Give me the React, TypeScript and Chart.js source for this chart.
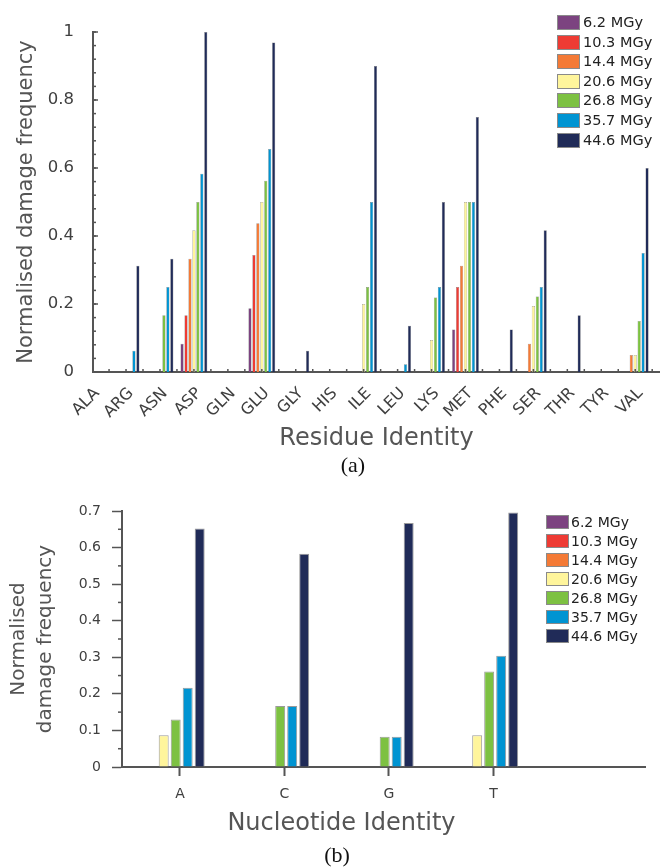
import React, { useEffect, useRef } from 'react';
import { Chart, registerables } from 'chart.js';

Chart.register(...registerables);

// ---------- data ----------
const doses = ['6.2 MGy', '10.3 MGy', '14.4 MGy', '20.6 MGy', '26.8 MGy', '35.7 MGy', '44.6 MGy'];

const residues = ['ALA', 'ARG', 'ASN', 'ASP', 'GLN', 'GLU', 'GLY', 'HIS', 'ILE', 'LEU', 'LYS', 'MET', 'PHE', 'SER', 'THR', 'TYR', 'VAL'];
//                       ALA  ARG     ASN    ASP    GLN  GLU     GLY     HIS  ILE  LEU    LYS    MET     PHE    SER    THR    TYR  VAL
const residue6_2 = [0, 0, 0, 0.083, 0, 0.1875, 0, 0, 0, 0, 0, 0.125, 0, 0, 0, 0, 0];
const residue10_3 = [0, 0, 0, 0.167, 0, 0.344, 0, 0, 0, 0, 0, 0.25, 0, 0, 0, 0, 0];
const residue14_4 = [0, 0, 0, 0.333, 0, 0.4375, 0, 0, 0, 0, 0, 0.3125, 0, 0.083, 0, 0, 0.05];
const residue20_6 = [0, 0, 0, 0.417, 0, 0.5, 0, 0, 0.2, 0, 0.094, 0.5, 0, 0.194, 0, 0, 0.05];
const residue26_8 = [0, 0, 0.167, 0.5, 0, 0.5625, 0, 0, 0.25, 0, 0.219, 0.5, 0, 0.222, 0, 0, 0.15];
const residue35_7 = [0, 0.0625, 0.25, 0.583, 0, 0.656, 0, 0, 0.5, 0.023, 0.25, 0.5, 0, 0.25, 0, 0, 0.35];
const residue44_6 = [0, 0.3125, 0.333, 1.0, 0, 0.969, 0.0625, 0, 0.9, 0.136, 0.5, 0.75, 0.125, 0.417, 0.167, 0, 0.6];
const residueSeries = [residue6_2, residue10_3, residue14_4, residue20_6, residue26_8, residue35_7, residue44_6];

const nucleotides = ['A', 'C', 'G', 'T'];
const nucleotide6_2 = [0, 0, 0, 0];
const nucleotide10_3 = [0, 0, 0, 0];
const nucleotide14_4 = [0, 0, 0, 0];
const nucleotide20_6 = [0.087, 0, 0, 0.087];
const nucleotide26_8 = [0.13, 0.167, 0.083, 0.261];
const nucleotide35_7 = [0.217, 0.167, 0.083, 0.304];
const nucleotide44_6 = [0.652, 0.583, 0.667, 0.696];
const nucleotideSeries = [nucleotide6_2, nucleotide10_3, nucleotide14_4, nucleotide20_6, nucleotide26_8, nucleotide35_7, nucleotide44_6];

const residueYTicks = { min: 0, max: 1, step: 0.2 };
const nucleotideYTicks = { min: 0, max: 0.7, step: 0.1 };

// ---------- style ----------
const COLORS = ['#7C4380', '#EE3B34', '#F47A36', '#FFF59C', '#7DC142', '#0094D2', '#202B58'];
const FONT = '"DejaVu Sans", Verdana, sans-serif';
const AXIS = '#555555';
const TICK = '#404040';
const TITLE = '#555555';

const fmt = (v: any) => String(Number(Number(v).toFixed(3)));

type Mark = { scale: string; from: number; to: number; step: number; len: number };

function makeTickPlugin(marks: Mark[]) {
  return {
    id: 'tickMarks',
    afterDraw(chart: any) {
      const ctx = chart.ctx;
      ctx.save();
      ctx.strokeStyle = AXIS;
      ctx.lineWidth = 1.5;
      for (const m of marks) {
        const s = chart.scales[m.scale];
        const n = Math.round((m.to - m.from) / m.step);
        for (let k = 0; k <= n; k++) {
          const v = m.from + k * m.step;
          const p = s.getPixelForValue(v);
          ctx.beginPath();
          if (s.isHorizontal()) {
            ctx.moveTo(p, s.top);
            ctx.lineTo(p, s.top + m.len);
          } else {
            ctx.moveTo(s.right, p);
            ctx.lineTo(s.right + m.len, p);
          }
          ctx.stroke();
        }
      }
      ctx.restore();
    },
  };
}

function makeLegendPlugin(o: { x: number; y: number; row: number; boxW: number; boxH: number; font: number; gap: number }) {
  return {
    id: 'boxLegend',
    afterDraw(chart: any) {
      const ctx = chart.ctx;
      ctx.save();
      ctx.font = `${o.font}px ${FONT}`;
      ctx.textBaseline = 'middle';
      ctx.textAlign = 'left';
      chart.data.datasets.forEach((ds: any, i: number) => {
        const y = Math.round(o.y + i * o.row);
        ctx.fillStyle = ds.backgroundColor;
        ctx.fillRect(o.x, y, o.boxW, o.boxH);
        ctx.strokeStyle = '#8a8a8a';
        ctx.lineWidth = 1;
        ctx.strokeRect(o.x + 0.5, y + 0.5, o.boxW - 1, o.boxH - 1);
        ctx.fillStyle = '#222222';
        ctx.fillText(ds.label, o.x + o.boxW + o.gap, y + o.boxH / 2 + 1);
      });
      ctx.restore();
    },
  };
}

function ResidueChart() {
  const ref = useRef<HTMLCanvasElement>(null);
  useEffect(() => {
    const chart = new Chart(ref.current!, {
      type: 'bar',
      data: {
        datasets: doses.map((d, j) => ({
          label: d,
          data: residueSeries[j].map((v, i) => ({ x: i + 1, y: v })),
          backgroundColor: COLORS[j],
          borderColor: 'rgba(70,70,70,0.7)',
          borderWidth: 0.5,
          categoryPercentage: 0.814,
          barPercentage: 0.8,
        })),
      },
      options: {
        responsive: false,
        animation: false,
        layout: { padding: { top: 32, left: 0, right: 0, bottom: 0 } },
        plugins: { legend: { display: false }, tooltip: { enabled: false } },
        scales: {
          x: {
            type: 'linear',
            min: 1.027,
            max: 17.73,
            offset: false,
            grid: { display: false, offset: false },
            border: { display: true, color: AXIS, width: 2 },
            afterBuildTicks: (s: any) => {
              s.ticks = residues.map((_, i) => ({ value: i + 1.15 }));
            },
            ticks: {
              autoSkip: false,
              minRotation: 45,
              maxRotation: 45,
              padding: 4,
              color: TICK,
              font: { family: FONT, size: 16 },
              callback: (_v: any, i: number) => residues[i],
            },
            afterFit: (s: any) => {
              s.height = 108;
            },
            title: {
              display: true,
              text: 'Residue Identity',
              color: TITLE,
              font: { family: FONT, size: 24 },
              padding: { top: 0, bottom: 27 },
            },
          },
          y: {
            min: residueYTicks.min,
            max: residueYTicks.max,
            grid: { display: false },
            border: { display: true, color: AXIS, width: 2 },
            ticks: { stepSize: residueYTicks.step, padding: 11, color: TICK, font: { family: FONT, size: 16.5 }, callback: fmt },
            afterFit: (s: any) => {
              s.width = 93;
            },
            title: {
              display: true,
              text: 'Normalised damage frequency',
              color: TITLE,
              font: { family: FONT, size: 21 },
              padding: { top: 14, bottom: 0 },
            },
          },
        },
      } as any,
      plugins: [
        makeTickPlugin([
          { scale: 'y', from: 0, to: 1, step: 0.04, len: 3 },
          { scale: 'y', from: 0, to: 1, step: 0.2, len: 5 },
          { scale: 'x', from: 1.5, to: 17.5, step: 0.5, len: -3 },
        ]),
        makeLegendPlugin({ x: 557, y: 15, row: 19.6, boxW: 23, boxH: 15, font: 14.5, gap: 3 }),
      ],
    });
    return () => chart.destroy();
  }, []);
  return <canvas ref={ref} width={660} height={480} style={{ position: 'absolute', left: 0, top: 0, width: 660, height: 480 }} />;
}

function NucleotideChart() {
  const ref = useRef<HTMLCanvasElement>(null);
  useEffect(() => {
    const chart = new Chart(ref.current!, {
      type: 'bar',
      data: {
        datasets: doses.map((d, j) => ({
          label: d,
          data: nucleotideSeries[j].map((v, i) => ({ x: i + 1, y: v })),
          backgroundColor: COLORS[j],
          borderColor: '#9a9a9a',
          borderWidth: 1,
          categoryPercentage: 0.804,
          barPercentage: 0.83,
        })),
      },
      options: {
        responsive: false,
        animation: false,
        layout: { padding: { top: 31, left: 0, right: 15, bottom: 0 } },
        plugins: { legend: { display: false }, tooltip: { enabled: false } },
        scales: {
          x: {
            type: 'linear',
            min: 0.601,
            max: 5.606,
            offset: false,
            grid: { display: true, drawOnChartArea: false, drawTicks: true, tickLength: 9, tickWidth: 2, tickColor: AXIS, offset: false },
            border: { display: true, color: AXIS, width: 2 },
            afterBuildTicks: (s: any) => {
              s.ticks = nucleotides.map((_, i) => ({ value: i + 1.156 }));
            },
            ticks: {
              autoSkip: false,
              maxRotation: 0,
              padding: 10,
              color: TICK,
              font: { family: FONT, size: 14 },
              callback: (_v: any, i: number) => nucleotides[i],
            },
            afterFit: (s: any) => {
              s.height = 100;
            },
          },
          y: {
            min: nucleotideYTicks.min,
            max: nucleotideYTicks.max,
            grid: { display: true, drawOnChartArea: false, drawTicks: true, tickLength: 10, tickWidth: 1.5, tickColor: AXIS },
            border: { display: true, color: AXIS, width: 2 },
            ticks: { stepSize: nucleotideYTicks.step, padding: 11, color: TICK, font: { family: FONT, size: 14 }, callback: fmt },
            afterFit: (s: any) => {
              s.width = 122;
            },
            title: {
              display: true,
              text: ['Normalised', 'damage frequency'],
              color: TITLE,
              font: { family: FONT, size: 20, lineHeight: 1.35 },
              padding: { top: 5.5, bottom: 0 },
            },
          },
        },
      } as any,
      plugins: [
        makeTickPlugin([{ scale: 'y', from: 0.05, to: 0.65, step: 0.1, len: -4 }]),
        makeLegendPlugin({ x: 546, y: 35, row: 19, boxW: 23, boxH: 14, font: 14, gap: 2 }),
      ],
    });
    return () => chart.destroy();
  }, []);
  return <canvas ref={ref} width={660} height={387} style={{ position: 'absolute', left: 0, top: 480, width: 660, height: 387 }} />;
}

export default function App() {
  return (
    <div style={{ position: 'absolute', left: 0, top: 0, width: 660, height: 867, background: '#ffffff', overflow: 'hidden' }}>
      <ResidueChart />
      <NucleotideChart />
      <div style={{ position: 'absolute', left: 0, width: 706, top: 452, textAlign: 'center', font: '22px "Liberation Serif", "Times New Roman", serif', lineHeight: '26px', color: '#111' }}>(a)</div>
      <div style={{ position: 'absolute', left: 0, width: 683, top: 808, textAlign: 'center', font: `24px ${FONT}`, lineHeight: '28px', color: TITLE }}>Nucleotide Identity</div>
      <div style={{ position: 'absolute', left: 0, width: 674, top: 842, textAlign: 'center', font: '22px "Liberation Serif", "Times New Roman", serif', lineHeight: '26px', color: '#111' }}>(b)</div>
    </div>
  );
}
